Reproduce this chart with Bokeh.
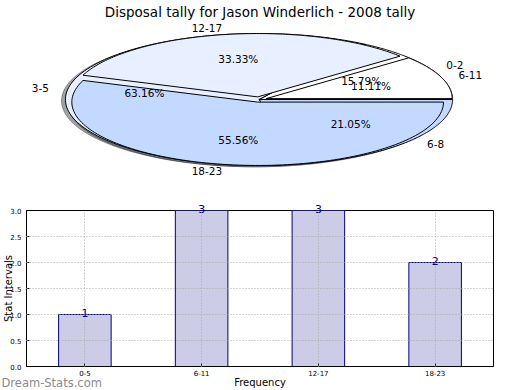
import numpy as np
from bokeh.plotting import figure
from bokeh.models import (Range1d, FactorRange, ColumnDataSource, Label, LabelSet,
                          SingleIntervalTicker, NumeralTickFormatter)
from bokeh.layouts import column
from bokeh.embed import file_html
from bokeh.resources import INLINE
from bokeh.core.properties import value

FONT = "DejaVu Sans"
title_text = "Disposal tally for Jason Winderlich - 2008 tally"

# ---- data ----
inner_labels = ["0-2", "3-5", "6-8"]
inner_values = [3, 12, 4]
outer_labels = ["6-11", "12-17", "18-23"]
outer_values = [1, 3, 5]
pie_colors = ["#ffffff", "#e8f0ff", "#c3d9ff"]

bar_labels = ["0-5", "6-11", "12-17", "18-23"]
bar_values = [1, 3, 3, 2]

x_label = "Frequency"
y_label = "Stat Intervals"
watermark = "Dream-Stats.com"

# ---- layout constants ----
W = 520
PIE_H = 196
BAR_H = 194
FRAME_L, FRAME_R = 25, 27          # borders shared by both (column aligns frames)
SX, SY = 194.0, 66.0               # px per pie unit (squashed pie)
CX, CY = 258.0, 99.0               # pie centre (px from left / top)
Y_TOP = 3.0


def pie_geometry(values, radius, explode):
    vals = np.asarray(values, float)
    frac = vals / vals.sum()
    bounds = np.concatenate([[0.0], np.cumsum(frac)]) * 2 * np.pi
    out = []
    for i in range(len(vals)):
        a0, a1 = bounds[i], bounds[i + 1]
        mid = 0.5 * (a0 + a1)
        cx, cy = explode * np.cos(mid), explode * np.sin(mid)
        t = np.linspace(a0, a1, 120)
        xs = np.concatenate([[cx], cx + radius * np.cos(t), [cx]])
        ys = np.concatenate([[cy], cy + radius * np.sin(t), [cy]])
        out.append(dict(xs=xs, ys=ys, mid=mid, cx=cx, cy=cy, frac=frac[i], r=radius))
    return out


def shade(hx, rho=0.3):
    r, g, b = (int(hx[i:i + 2], 16) for i in (1, 3, 5))
    return "#%02x%02x%02x" % (int(r * rho), int(g * rho), int(b * rho))


inner = pie_geometry(inner_values, 1.0, 0.0)
outer = pie_geometry(outer_values, 0.96, 0.04)

pie = figure(width=W, height=PIE_H,
             x_range=Range1d(-(CX - FRAME_L) / SX, (W - FRAME_R - CX) / SX),
             y_range=Range1d(-(PIE_H - CY) / SY, CY / SY),
             output_backend="svg", toolbar_location=None,
             min_border_left=FRAME_L, min_border_right=FRAME_R,
             min_border_top=0, min_border_bottom=0,
             x_axis_location=None, y_axis_location=None, title=None)
pie.grid.visible = False
pie.outline_line_color = None

# shadows (drawn beneath all wedges)
sh_xs, sh_ys, sh_c = [], [], []
for wedges in (inner, outer):
    for w, c in zip(wedges, pie_colors):
        sh_xs.append(w["xs"] - 0.02)
        sh_ys.append(w["ys"] - 0.02)
        sh_c.append(shade(c))
pie.patches(xs=sh_xs, ys=sh_ys, fill_color=sh_c, fill_alpha=0.5,
            line_color=sh_c, line_alpha=0.5, line_width=1)

for wedges in (inner, outer):
    pie.patches(xs=[w["xs"] for w in wedges], ys=[w["ys"] for w in wedges],
                fill_color=pie_colors, line_color="black", line_width=1)

# labels
for wedges, labels in ((inner, inner_labels), (outer, outer_labels)):
    lx, ly, lt, rx, ry, rt, px, py, pt = [], [], [], [], [], [], [], [], []
    for w, lab in zip(wedges, labels):
        xt = w["cx"] + 1.1 * w["r"] * np.cos(w["mid"])
        yt = w["cy"] + 1.1 * w["r"] * np.sin(w["mid"])
        if xt > 0:
            lx.append(xt); ly.append(yt); lt.append(lab)
        else:
            rx.append(xt); ry.append(yt); rt.append(lab)
        px.append(w["cx"] + 0.6 * w["r"] * np.cos(w["mid"]))
        py.append(w["cy"] + 0.6 * w["r"] * np.sin(w["mid"]))
        pt.append("%.2f%%" % (100 * w["frac"]))
    common = dict(text_font=value(FONT), text_font_size="10.5px", text_color="black",
                  text_baseline="middle")
    pie.text(x=lx, y=ly, text=lt, text_align="left", **common)
    pie.text(x=rx, y=ry, text=rt, text_align="right", **common)
    pie.text(x=px, y=py, text=pt, text_align="center", **common)

pie.add_layout(Label(x=(pie.x_range.start + pie.x_range.end) / 2, y=pie.y_range.end,
                     y_offset=-3, text=title_text, text_align="center",
                     text_baseline="top", text_font=FONT, text_font_size="13.5px",
                     text_color="black"))

# ---- bar chart ----
bar = figure(width=W, height=BAR_H,
             x_range=FactorRange(*bar_labels, range_padding=0),
             y_range=Range1d(0, Y_TOP),
             output_backend="svg", toolbar_location=None, title=None,
             min_border_left=FRAME_L, min_border_right=FRAME_R,
             min_border_top=14, min_border_bottom=21)

src = ColumnDataSource(dict(x=bar_labels, top=bar_values))
bar.vbar(x="x", top="top", width=0.45, source=src,
         fill_color="#ccccE6", line_color="#000080", line_width=1)

ticker = SingleIntervalTicker(interval=0.5)
bar.yaxis.ticker = ticker
bar.yaxis.formatter = NumeralTickFormatter(format="0.0")
for ax in (bar.xaxis, bar.yaxis):
    ax.major_label_text_font = FONT
    ax.major_label_text_font_size = "7px"
    ax.major_label_text_color = "black"
    ax.major_tick_in = 3
    ax.major_tick_out = 0
    ax.minor_tick_line_color = None
    ax.axis_line_color = "black"
    ax.major_tick_line_color = "black"
    ax.axis_label_text_font = FONT
    ax.axis_label_text_font_size = "10px"
    ax.axis_label_text_font_style = "normal"
    ax.axis_label_text_color = "black"
bar.yaxis.major_label_standoff = 1
bar.yaxis.axis_label_standoff = -7
bar.xaxis.major_label_standoff = 3
bar.xaxis.axis_label_standoff = -2
bar.yaxis.axis_label = y_label
bar.xaxis.axis_label = x_label

bar.ygrid.ticker = ticker
for g in (bar.xgrid, bar.ygrid):
    g.grid_line_color = "#aaaaaa"
    g.grid_line_dash = "1 2"
    g.grid_line_width = 1
    g.level = "annotation"
bar.outline_line_color = "black"

# value labels: those inside the frame via a LabelSet, those at the frame top
# in a side panel so that they are not clipped
lab_style = dict(text_align="center", text_baseline="bottom", y_offset=-2,
                 text_font_size="11px", text_color="#000080")
inside = [i for i, v in enumerate(bar_values) if v < Y_TOP]
edge = [i for i, v in enumerate(bar_values) if v >= Y_TOP]
src_in = ColumnDataSource(dict(x=[bar_labels[i] for i in inside],
                               top=[bar_values[i] for i in inside],
                               txt=[str(bar_values[i]) for i in inside]))
bar.add_layout(LabelSet(x="x", y="top", text="txt", source=src_in,
                        text_font=value(FONT), **lab_style))
for i in edge:
    bar.add_layout(Label(x=i + 0.5, y=bar_values[i], text=str(bar_values[i]),
                         text_font=FONT, **lab_style), "right")

bar.add_layout(Label(x=0, y=0, x_offset=-FRAME_L, y_offset=-16, text=watermark,
                     text_align="left", text_baseline="alphabetic",
                     text_font=FONT, text_font_size="11.5px",
                     text_color="#8a8a8a"), "above")

layout = column(pie, bar, spacing=0)
open("out.html", "w").write(file_html(layout, INLINE))
